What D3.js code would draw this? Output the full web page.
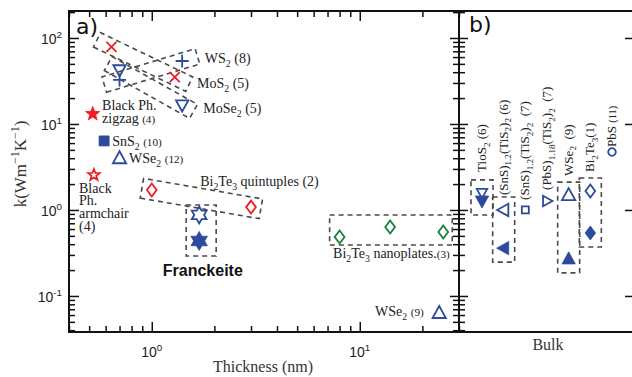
<!DOCTYPE html>
<html>
<head>
<meta charset="utf-8">
<script src="https://cdn.jsdelivr.net/npm/d3@7"></script>
<style>
  body { margin: 0; background: #fff; }
  svg { display: block; }
  text { white-space: pre; }
</style>
</head>
<body>
<svg id="chart" width="632" height="377"></svg>
<script>
// ---- data: [thickness (nm), k (W/mK)] ----
const mos2 = [[0.64, 79], [1.29, 35]];
const ws2 = [[0.70, 32.5], [1.40, 54]];
const mose2 = [[0.70, 42.5], [1.40, 16.6]];
const bpZigzag = [[0.52, 13.1]];
const sns2 = [[0.59, 6.35]];
const wse2Thin = [[0.70, 4.0]];
const bpArmchair = [[0.527, 2.55]];
const bi2te3QL = [[1.0, 1.71], [3.0, 1.08]];
const franckeiteOpen = [[1.69, 0.875]];
const franckeiteFilled = [[1.69, 0.436]];
const bi2te3Plates = [[8.0, 0.485], [14.0, 0.634], [25.2, 0.555]];
const wse2Thick = [[24.1, 0.0634]];

// bulk panel
const bulkCats = ['TiS2', 'SnS-6', 'SnS-7', 'PbS-7', 'WSe2', 'Bi2Te3', 'PbS'];
const bulkOpen = [1.58, 1.0, 1.0, 1.27, 1.49, 1.66, 4.72];
const bulkFilled = [1.27, 0.36, null, null, 0.27, 0.54, null];
const bulkLabels = ['TioS_{2} (6)', '(SnS)_{1.2}(TiS_{2})_{2} (6)', '(SnS)_{1.2}(TiS_{2})_{2}  (7)',
    '(PbS)_{1.18}(TiS_{2})_{2}  (7)', 'WSe_{2}  (9)', 'Bi_{2}Te_{3}(1)', 'PbS ~{(11)}'];
const bulkLabelK = [2.77, 1.49, 1.31, 1.71, 2.49, 2.77, 5.4];

// axes
const xMajorTicks = [1, 10];
const yMajorTicks = [0.1, 1, 10, 100];

const RED = '#ee1d23', BLUE = '#2d4a9c', GREEN = '#17803a', BOX = '#4a4a4a';

const svg = d3.select('#chart');
const x = d3.scaleLog().domain([0.4, 30]).range([69, 459]);
const y = d3.scaleLog().domain([0.0381, 206]).range([332, 11]);
const xb = d3.scalePoint().domain(bulkCats).range([482, 612]);

function shapePath(shape, r) {
    const poly = pts => 'M' + pts.map(p => p[0].toFixed(2) + ',' + p[1].toFixed(2)).join('L') + 'Z';
    const star = (n, inner) => poly(d3.range(n * 2).map(i => {
        const a = -Math.PI / 2 + i * Math.PI / n, rr = i % 2 ? r * inner : r;
        return [rr * Math.cos(a), rr * Math.sin(a)];
    }));
    switch (shape) {
        case 'x': return `M${-r},${-r}L${r},${r}M${-r},${r}L${r},${-r}`;
        case 'plus': return `M${-r},0H${r}M0,${-r}V${r}`;
        case 'triUp': return poly([[0, -r], [r * 0.95, r * 0.72], [-r * 0.95, r * 0.72]]);
        case 'triDown': return poly([[0, r], [r * 0.95, -r * 0.72], [-r * 0.95, -r * 0.72]]);
        case 'triLeft': return poly([[-r, 0], [r * 0.72, -r * 0.95], [r * 0.72, r * 0.95]]);
        case 'triRight': return poly([[r, 0], [-r * 0.72, -r * 0.95], [-r * 0.72, r * 0.95]]);
        case 'diamond': return poly([[0, -r], [r * 0.75, 0], [0, r], [-r * 0.75, 0]]);
        case 'square': return poly([[-r, -r], [r, -r], [r, r], [-r, r]]);
        case 'star5': return star(5, 0.42);
        case 'hexagram': return star(6, 1 / Math.sqrt(3));
        case 'circle': return `M${r},0A${r},${r} 0 1,1 ${-r},0A${r},${r} 0 1,1 ${r},0Z`;
    }
}

// rich text: _{sub}  ^{sup}  ~{small}
function rich(sel, str, size) {
    const parts = str.split(/(_\{[^}]*\}|\^\{[^}]*\}|~\{[^}]*\})/).filter(s => s.length);
    let shift = 0;
    parts.forEach(p => {
        let t = p, s = 0, fs = size;
        if (p.startsWith('_{')) { t = p.slice(2, -1); s = size * 0.28; fs = size * 0.7; }
        else if (p.startsWith('^{')) { t = p.slice(2, -1); s = -size * 0.42; fs = size * 0.7; }
        else if (p.startsWith('~{')) { t = p.slice(2, -1); fs = size * 0.8; }
        sel.append('tspan').attr('dy', s - shift).style('font-size', fs + 'px').text(t);
        shift = s;
    });
}

// ---- frame and ticks ----
const minorX = x.ticks().filter(v => !xMajorTicks.includes(v));
const minorY = y.ticks().filter(v => !yMajorTicks.some(m => Math.abs(m - v) < 1e-9));

function axisGroup(axis, tx, ty) {
    const g = svg.append('g').attr('transform', `translate(${tx},${ty})`).call(axis);
    g.select('.domain').remove();
    g.selectAll('line').attr('stroke', '#111').attr('stroke-width', 1.5);
    g.selectAll('text').remove();
    return g;
}

axisGroup(d3.axisBottom(x).tickValues(minorX).tickSize(-6).tickFormat(''), 0, 332);
axisGroup(d3.axisBottom(x).tickValues(xMajorTicks).tickSize(-10).tickFormat(''), 0, 332);
axisGroup(d3.axisTop(x).tickValues(minorX).tickSize(-6).tickFormat(''), 0, 11);
axisGroup(d3.axisTop(x).tickValues(xMajorTicks).tickSize(-10).tickFormat(''), 0, 11);
axisGroup(d3.axisLeft(y).tickValues(minorY).tickSize(-6).tickFormat(''), 69, 0);
axisGroup(d3.axisLeft(y).tickValues(yMajorTicks).tickSize(-10).tickFormat(''), 69, 0);
axisGroup(d3.axisLeft(y).tickValues(minorY).tickSize(6).tickFormat(''), 459, 0);
axisGroup(d3.axisLeft(y).tickValues(yMajorTicks).tickSize(9).tickFormat(''), 459, 0);
axisGroup(d3.axisRight(y).tickValues(minorY).tickSize(6).tickFormat(''), 459, 0);
axisGroup(d3.axisRight(y).tickValues(yMajorTicks).tickSize(9).tickFormat(''), 459, 0);
axisGroup(d3.axisLeft(y).tickValues(yMajorTicks).tickSize(8).tickFormat(''), 633, 0);

const frame = svg.append('g').attr('stroke', '#111').attr('stroke-width', 2);
frame.append('line').attr('x1', 68).attr('x2', 632).attr('y1', 11).attr('y2', 11);
frame.append('line').attr('x1', 68).attr('x2', 632).attr('y1', 332).attr('y2', 332);
frame.append('line').attr('x1', 69).attr('x2', 69).attr('y1', 11).attr('y2', 332);
frame.append('line').attr('x1', 459).attr('x2', 459).attr('y1', 11).attr('y2', 332);

// tick labels
yMajorTicks.forEach(v => {
    const t = svg.append('text').attr('x', 62).attr('y', y(v) + 6).attr('text-anchor', 'end')
        .style('font-family', 'Liberation Sans, Arial, sans-serif').attr('fill', '#222');
    rich(t, '10^{' + Math.round(Math.log10(v)) + '}', 14);
});
xMajorTicks.forEach(v => {
    const t = svg.append('text').attr('x', x(v)).attr('y', 357).attr('text-anchor', 'middle')
        .style('font-family', 'Liberation Sans, Arial, sans-serif').attr('fill', '#222');
    rich(t, '10^{' + Math.round(Math.log10(v)) + '}', 14);
});

// axis titles
const serif = 'Liberation Serif, Times New Roman, serif';
const yTitle = svg.append('text').attr('transform', 'translate(26,164) rotate(-90)')
    .attr('text-anchor', 'middle').style('font-family', serif).attr('fill', '#333');
rich(yTitle, 'k(Wm^{\u22121}K^{\u22121})', 17);
svg.append('text').attr('x', 263).attr('y', 372).attr('text-anchor', 'middle')
    .style('font-family', serif).style('font-size', '16px').attr('fill', '#333').text('Thickness (nm)');
svg.append('text').attr('x', 548).attr('y', 350).attr('text-anchor', 'middle')
    .style('font-family', serif).style('font-size', '16px').attr('fill', '#333').text('Bulk');

// panel letters
svg.append('text').attr('x', 76).attr('y', 34).style('font-family', 'DejaVu Sans, sans-serif')
    .style('font-size', '22px').attr('fill', '#111').text('a)');
svg.append('text').attr('x', 469).attr('y', 32).style('font-family', 'DejaVu Sans, sans-serif')
    .style('font-size', '22px').attr('fill', '#111').text('b)');

// ---- dashed boxes ----
function boxPoints(px, b) {
    if (b.kind === 'rect') {
        const [l, r, t, bt] = b.pad;
        const x0 = d3.min(px, p => p[0]) - l, x1 = d3.max(px, p => p[0]) + r;
        const y0 = d3.min(px, p => p[1]) - t, y1 = d3.max(px, p => p[1]) + bt;
        return [[x0, y0], [x1, y0], [x1, y1], [x0, y1]];
    }
    const p0 = px[0], p1 = px[px.length - 1];
    const len = Math.hypot(p1[0] - p0[0], p1[1] - p0[1]);
    const ux = (p1[0] - p0[0]) / len, uy = (p1[1] - p0[1]) / len;
    const nx = -uy, ny = ux, a = b.along, c = b.across;
    return [
        [p0[0] - ux * a + nx * c, p0[1] - uy * a + ny * c],
        [p1[0] + ux * a + nx * c, p1[1] + uy * a + ny * c],
        [p1[0] + ux * a - nx * c, p1[1] + uy * a - ny * c],
        [p0[0] - ux * a - nx * c, p0[1] - uy * a - ny * c]
    ];
}

const thinBoxes = [
    { pts: mos2, kind: 'diag', along: 16, across: 8 },
    { pts: ws2, kind: 'diag', along: 16, across: 8 },
    { pts: mose2, kind: 'diag', along: 13, across: 8 },
    { pts: bi2te3QL, kind: 'diag', along: 10, across: 10 },
    { pts: franckeiteOpen.concat(franckeiteFilled), kind: 'rect', pad: [13, 17, 10, 15] },
    { pts: bi2te3Plates, kind: 'rect', pad: [10, 9, 12, 8] }
];
const bulkBoxCols = [0, 1, 4, 5];

const boxG = svg.append('g').attr('fill', 'none').attr('stroke', BOX)
    .attr('stroke-width', 1.6).attr('stroke-dasharray', '5,4');
thinBoxes.forEach(b => {
    const px = b.pts.map(d => [x(d[0]), y(d[1])]);
    boxG.append('path').attr('d', 'M' + boxPoints(px, b).map(p => p.join(',')).join('L') + 'Z');
});
bulkBoxCols.forEach(i => {
    const px = [bulkOpen[i], bulkFilled[i]].map(k => [xb(bulkCats[i]), y(k)]);
    const b = { kind: 'rect', pad: [11, 11, 13, 14] };
    boxG.append('path').attr('d', 'M' + boxPoints(px, b).map(p => p.join(',')).join('L') + 'Z');
});

// ---- markers ----
const thinSeries = [
    { pts: mos2, shape: 'x', r: 5, color: RED },
    { pts: ws2, shape: 'plus', r: 6.5, color: BLUE },
    { pts: mose2, shape: 'triDown', r: 6.5, color: BLUE },
    { pts: bpZigzag, shape: 'star5', r: 7.5, color: RED, fill: true },
    { pts: sns2, shape: 'square', r: 5, color: BLUE, fill: true },
    { pts: wse2Thin, shape: 'triUp', r: 7, color: BLUE },
    { pts: bpArmchair, shape: 'star5', r: 6, color: RED },
    { pts: bi2te3QL, shape: 'diamond', r: 6.5, color: RED },
    { pts: franckeiteOpen, shape: 'hexagram', r: 8.5, color: BLUE },
    { pts: franckeiteFilled, shape: 'hexagram', r: 9.5, color: BLUE, fill: true },
    { pts: bi2te3Plates, shape: 'diamond', r: 6.5, color: GREEN },
    { pts: wse2Thick, shape: 'triUp', r: 7, color: BLUE }
];

const markG = svg.append('g');
thinSeries.forEach(s => {
    markG.selectAll(null).data(s.pts).enter().append('path')
        .attr('transform', d => `translate(${x(d[0])},${y(d[1])})`)
        .attr('d', shapePath(s.shape, s.r))
        .attr('fill', s.fill ? s.color : 'none')
        .attr('stroke', s.color)
        .attr('stroke-width', s.fill ? 0.8 : 1.8);
});

const bulkOpenShape = ['triDown', 'triLeft', 'square', 'triRight', 'triUp', 'diamond', 'circle'];
const bulkOpenSize = [5.5, 6.5, 3.5, 5.5, 7, 6.5, 3.8];
const bulkFilledShape = ['triDown', 'triLeft', null, null, 'triUp', 'diamond', null];

bulkCats.forEach((c, i) => {
    markG.append('path')
        .attr('transform', `translate(${xb(c)},${y(bulkOpen[i])})`)
        .attr('d', shapePath(bulkOpenShape[i], bulkOpenSize[i]))
        .attr('fill', 'none').attr('stroke', BLUE).attr('stroke-width', 1.8);
    if (bulkFilled[i] != null) {
        markG.append('path')
            .attr('transform', `translate(${xb(c)},${y(bulkFilled[i])})`)
            .attr('d', shapePath(bulkFilledShape[i], 7))
            .attr('fill', BLUE).attr('stroke', BLUE).attr('stroke-width', 0.8);
    }
});

// ---- labels ----
const thinLabels = [
    { at: [1.80, 51], lines: ['WS_{2} (8)'] },
    { at: [1.65, 26.2], lines: ['MoS_{2} (5)'] },
    { at: [1.77, 13.4], lines: ['MoSe_{2} (5)'] },
    { at: [0.577, 14.5], lines: ['Black Ph.', 'zigzag ~{(4)}'] },
    { at: [0.645, 5.55], lines: ['SnS_{2} ~{(10)}'] },
    { at: [0.778, 3.52], lines: ['WSe_{2} ~{(12)}'] },
    { at: [0.447, 1.58], lines: ['Black', 'Ph.', 'armchair', '(4)'] },
    { at: [1.71, 1.90], lines: ['Bi_{2}Te_{3} quintuples (2)'] },
    { at: [7.44, 0.277], lines: ['Bi_{2}Te_{3} nanoplates.~{(3)}'] },
    { at: [11.85, 0.0585], lines: ['WSe_{2} ~{(9)}'] }
];
thinLabels.forEach(l => {
    l.lines.forEach((line, j) => {
        const t = svg.append('text').attr('x', x(l.at[0])).attr('y', y(l.at[1]) + j * 12.6)
            .style('font-family', serif).attr('fill', '#222');
        rich(t, line, 14);
    });
});

svg.append('text').attr('x', x(1.13)).attr('y', y(0.171))
    .style('font-family', 'Liberation Sans, Arial, sans-serif').style('font-weight', 'bold')
    .style('font-size', '16px').attr('fill', '#111').text('Franckeite');

bulkCats.forEach((c, i) => {
    const t = svg.append('text')
        .attr('transform', `translate(${xb(c) + 4},${y(bulkLabelK[i])}) rotate(-90)`)
        .style('font-family', serif).attr('fill', '#222');
    rich(t, bulkLabels[i], 13);
});
</script>
</body>
</html>
